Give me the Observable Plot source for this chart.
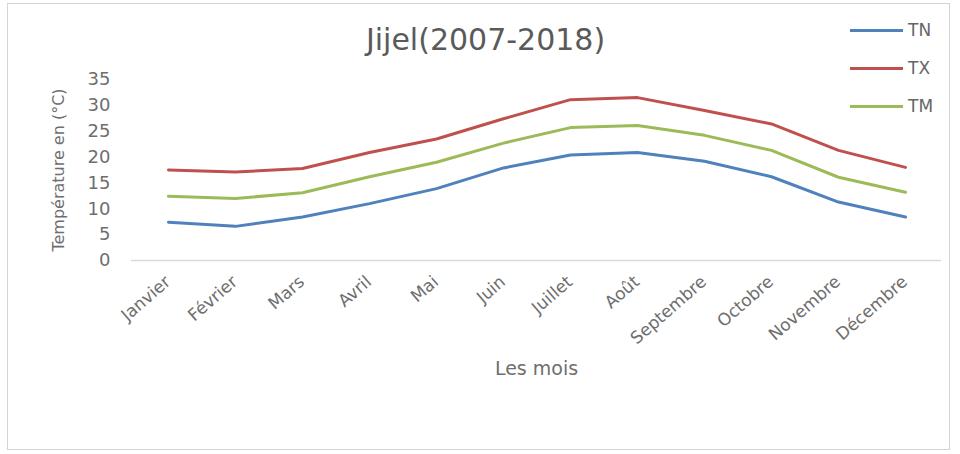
<!DOCTYPE html>
<html>
<head>
<meta charset="utf-8">
<script src="https://cdn.jsdelivr.net/npm/d3@7"></script>
<script src="https://cdn.jsdelivr.net/npm/@observablehq/plot@0.6"></script>
<style>
  html, body { margin: 0; padding: 0; background: #fff; }
  #wrap { position: relative; width: 960px; height: 454px; font-family: "DejaVu Sans", sans-serif; color: #666; }
  #frame { position: absolute; left: 7px; top: 3px; width: 943px; height: 447px; border: 1.5px solid #d4d4d4; box-sizing: border-box; }
  #chart { position: absolute; left: 0; top: 0; }
  .leg { position: absolute; left: 850px; font-size: 17px; display: flex; align-items: center; }
  .leg span.sw { display: inline-block; width: 53px; height: 3px; margin-right: 5px; }
</style>
</head>
<body>
<div id="wrap">
  <div id="frame"></div>
  <div id="chart"></div>
  <div id="legend"></div>
</div>
<script>
const title = "Jijel(2007-2018)";
const yTitle = "Température en (°C)";
const xTitle = "Les mois";
const months = ["Janvier","Février","Mars","Avril","Mai","Juin","Juillet","Août","Septembre","Octobre","Novembre","Décembre"];
const yTicks = [0, 5, 10, 15, 20, 25, 30, 35];
const seriesNames = ["TN", "TX", "TM"];
const seriesColors = ["#4F81BD", "#C0504D", "#9BBB59"];
const TN = [7.4, 6.6, 8.4, 11.0, 13.9, 17.9, 20.4, 20.9, 19.2, 16.2, 11.3, 8.4];
const TX = [17.5, 17.1, 17.8, 20.9, 23.5, 27.4, 31.1, 31.5, 29.0, 26.4, 21.3, 18.0];
const TM = [12.4, 12.0, 13.1, 16.2, 19.0, 22.7, 25.7, 26.1, 24.2, 21.3, 16.1, 13.2];

const seriesValues = {TN, TX, TM};
const data = seriesNames.flatMap(s => months.map((m, i) => ({series: s, month: m, value: seriesValues[s][i]})));

const textColor = "#6e6e6e";

const chart = Plot.plot({
  width: 960,
  height: 454,
  marginLeft: 131,
  marginRight: 19,
  marginTop: 79,
  marginBottom: 194,
  style: {fontFamily: "'DejaVu Sans', sans-serif", background: "transparent", overflow: "visible"},
  x: {type: "point", domain: months, padding: 0.5, axis: null},
  y: {domain: [0, 35], axis: null},
  color: {domain: seriesNames, range: seriesColors},
  marks: [
    Plot.ruleY([0], {stroke: "#d9d9d9", strokeWidth: 1.5}),
    Plot.line(data, {x: "month", y: "value", z: "series", stroke: "series", strokeWidth: 3}),
    Plot.text(yTicks, {y: d => d, frameAnchor: "left", dx: -21, textAnchor: "end", text: d => String(d), fontSize: 18, fill: textColor}),
    Plot.text(months, {x: d => d, frameAnchor: "bottom", dx: 3, dy: 23, rotate: -41, textAnchor: "end", text: d => d, fontSize: 17, fill: textColor}),
    Plot.text([yTitle], {frameAnchor: "left", dx: -73, rotate: -90, textAnchor: "middle", text: d => d, fontSize: 16, fill: textColor}),
    Plot.text([xTitle], {frameAnchor: "bottom", lineAnchor: "middle", dy: 108, text: d => d, fontSize: 19, fill: textColor}),
    Plot.text([title], {frameAnchor: "top", lineAnchor: "middle", dx: -51, dy: -39, text: d => d, fontSize: 30, fill: "#5a5a5a"})
  ]
});
document.getElementById("chart").appendChild(chart);

const legend = document.getElementById("legend");
const legendY = [32, 70, 108];
seriesNames.forEach((s, i) => {
  const row = document.createElement("div");
  row.className = "leg";
  row.style.top = (legendY[i] - 12) + "px";
  row.innerHTML = `<span class="sw" style="background:${seriesColors[i]}"></span><span>${s}</span>`;
  legend.appendChild(row);
});
</script>
</body>
</html>
